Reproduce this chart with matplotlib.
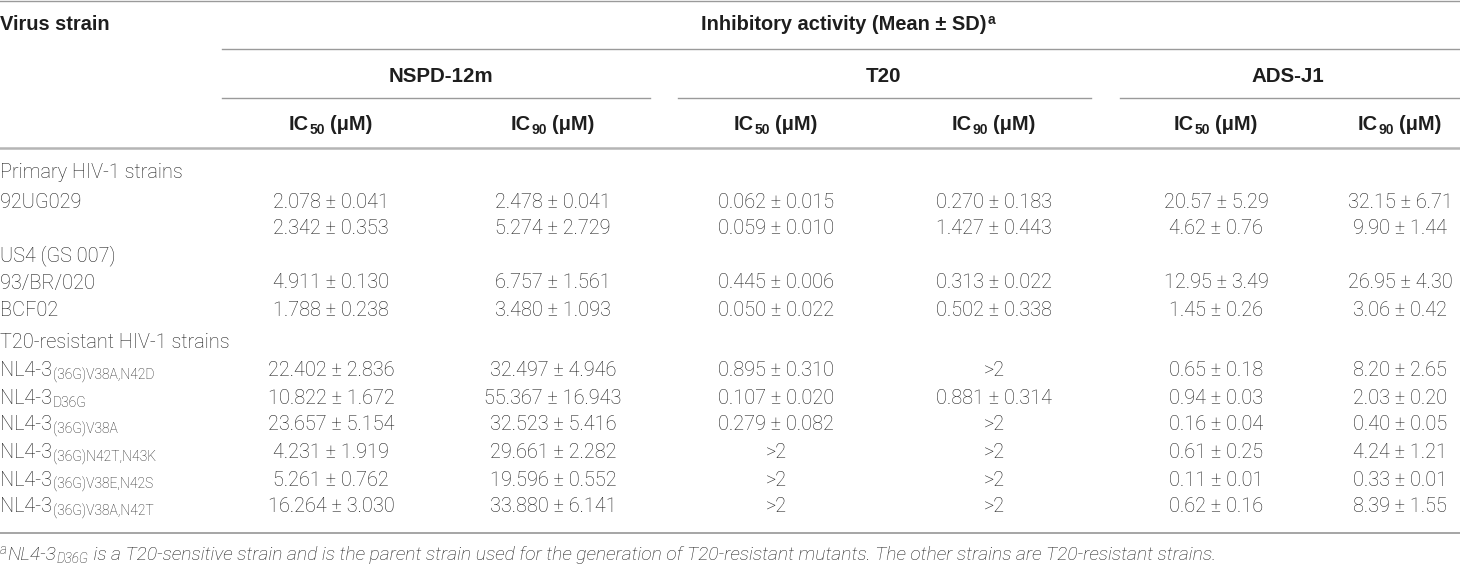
import matplotlib
matplotlib.use("Agg")
import matplotlib.pyplot as plt
from matplotlib import font_manager

# font: Roboto (light) for body if available, Liberation Sans Bold for headers
fonts = font_manager.fontManager.ttflist
names = set(f.name for f in fonts)
font = "Roboto" if "Roboto" in names else "Liberation Sans"
has_light = any(f.name == font and f.weight in (300, "light") for f in fonts)
body_w = "light" if has_light else "normal"
head_font = ["Liberation Sans", "DejaVu Sans"]
plt.rcParams["font.family"] = [font, "DejaVu Sans"]

# table content
# each label is a list of (text, mode) pieces, mode: "" normal, "sub", "sup"
title = [("Inhibitory activity (Mean ± SD)", ""), ("a", "sup")]
drugs = ["NSPD-12m", "T20", "ADS-J1"]
col_labels = [[("IC", ""), ("50", "sub"), (" ", ""), ("(μM)", "")],
              [("IC", ""), ("90", "sub"), (" ", ""), ("(μM)", "")]] * 3

row_labels = [
    [("Primary HIV-1 strains", "")],
    [("92UG029", "")],
    [],
    [("US4 (GS 007)", "")],
    [("93/BR/020", "")],
    [("BCF02", "")],
    [("T20-resistant HIV-1 strains", "")],
    [("NL4-3", ""), ("(36G)V38A,N42D", "sub")],
    [("NL4-3", ""), ("D36G", "sub")],
    [("NL4-3", ""), ("(36G)V38A", "sub")],
    [("NL4-3", ""), ("(36G)N42T,N43K", "sub")],
    [("NL4-3", ""), ("(36G)V38E,N42S", "sub")],
    [("NL4-3", ""), ("(36G)V38A,N42T", "sub")],
]

nspd_ic50 = ["", "2.078 ± 0.041", "2.342 ± 0.353", "", "4.911 ± 0.130", "1.788 ± 0.238", "",
             "22.402 ± 2.836", "10.822 ± 1.672", "23.657 ± 5.154", "4.231 ± 1.919", "5.261 ± 0.762", "16.264 ± 3.030"]
nspd_ic90 = ["", "2.478 ± 0.041", "5.274 ± 2.729", "", "6.757 ± 1.561", "3.480 ± 1.093", "",
             "32.497 ± 4.946", "55.367 ± 16.943", "32.523 ± 5.416", "29.661 ± 2.282", "19.596 ± 0.552", "33.880 ± 6.141"]
t20_ic50 = ["", "0.062 ± 0.015", "0.059 ± 0.010", "", "0.445 ± 0.006", "0.050 ± 0.022", "",
            "0.895 ± 0.310", "0.107 ± 0.020", "0.279 ± 0.082", ">2", ">2", ">2"]
t20_ic90 = ["", "0.270 ± 0.183", "1.427 ± 0.443", "", "0.313 ± 0.022", "0.502 ± 0.338", "",
            ">2", "0.881 ± 0.314", ">2", ">2", ">2", ">2"]
ads_ic50 = ["", "20.57 ± 5.29", "4.62 ± 0.76", "", "12.95 ± 3.49", "1.45 ± 0.26", "",
            "0.65 ± 0.18", "0.94 ± 0.03", "0.16 ± 0.04", "0.61 ± 0.25", "0.11 ± 0.01", "0.62 ± 0.16"]
ads_ic90 = ["", "32.15 ± 6.71", "9.90 ± 1.44", "", "26.95 ± 4.30", "3.06 ± 0.42", "",
            "8.20 ± 2.65", "2.03 ± 0.20", "0.40 ± 0.05", "4.24 ± 1.21", "0.33 ± 0.01", "8.39 ± 1.55"]
columns = [nspd_ic50, nspd_ic90, t20_ic50, t20_ic90, ads_ic50, ads_ic90]

footnote = [("a", "sup"), ("NL4-3", ""), ("D36G", "sub"),
            (" is a T20-sensitive strain and is the parent strain used for the generation of "
             "T20-resistant mutants. The other strains are T20-resistant strains.", "")]

# layout (pixel coordinates)
col_x = [331, 553, 776, 994, 1216, 1400]
drug_x = [441, 884, 1288]
drug_span = [(222, 650), (678, 1091), (1120, 1460)]
row_y = [172, 201, 228, 255, 282, 310, 342, 370, 397, 424, 452, 479, 506]
fs = 14.3
fs_head = 14.4
dy = 6.5  # center -> baseline
line_c = "#9a9a9a"
txt_c = "#1e1e1e"

fig = plt.figure(figsize=(14.6, 5.66), dpi=100)
ax = fig.add_axes([0, 0, 1, 1])
ax.set_xlim(0, 1460)
ax.set_ylim(566, 0)
ax.axis("off")
renderer = fig.canvas.get_renderer()


def rich(x, y, parts, size, ha="left", **kw):
    # lay pieces out left to right, then shift for alignment
    placed = []
    cur = 0.0
    for s, mode in parts:
        if s == " ":
            cur += size * 0.3
            continue
        fsz = size * 0.7 if mode else size
        off = {"": 0, "sub": size * 0.22, "sup": -size * 0.42}[mode]
        t = ax.text(0, y + off, s, fontsize=fsz, va="baseline", ha="left", **kw)
        w = t.get_window_extent(renderer).width
        placed.append((t, cur))
        cur += w + (0.2 if mode == "sup" else 0.8)
    x0 = x - cur / 2 if ha == "center" else x
    for t, c in placed:
        t.set_x(x0 + c)


ax.axhline(1, color=line_c, lw=1.0)
ax.plot([222, 1460], [49, 49], color=line_c, lw=1.0)
for x0, x1 in drug_span:
    ax.plot([x0, x1], [98, 98], color=line_c, lw=1.0)
ax.axhline(148, color="#b5b5b5", lw=1.8)
ax.axhline(533, color="#a5a5a5", lw=1.4)

head = dict(fontweight="bold", color=txt_c, family=head_font)
ax.text(0, 24 + dy, "Virus strain", fontsize=fs_head, va="baseline", ha="left", **head)
rich(848, 24 + dy, title, fs_head, ha="center", **head)
for x, d in zip(drug_x, drugs):
    ax.text(x, 75 + dy, d, fontsize=fs_head + 0.4, va="baseline", ha="center", **head)
for x, c in zip(col_x, col_labels):
    rich(x, 124 + dy, c, fs_head, ha="center", **head)

for y, lab in zip(row_y, row_labels):
    rich(0, y + dy, lab, fs, fontweight=body_w, color=txt_c)
for x, col in zip(col_x, columns):
    for y, v in zip(row_y, col):
        ax.text(x, y + dy, v, fontsize=fs, fontweight=body_w, va="baseline", ha="center", color=txt_c)

rich(0, 553 + dy, footnote, 13.9, fontweight=body_w, style="italic", color=txt_c)

fig.savefig("out.png", dpi=100)
